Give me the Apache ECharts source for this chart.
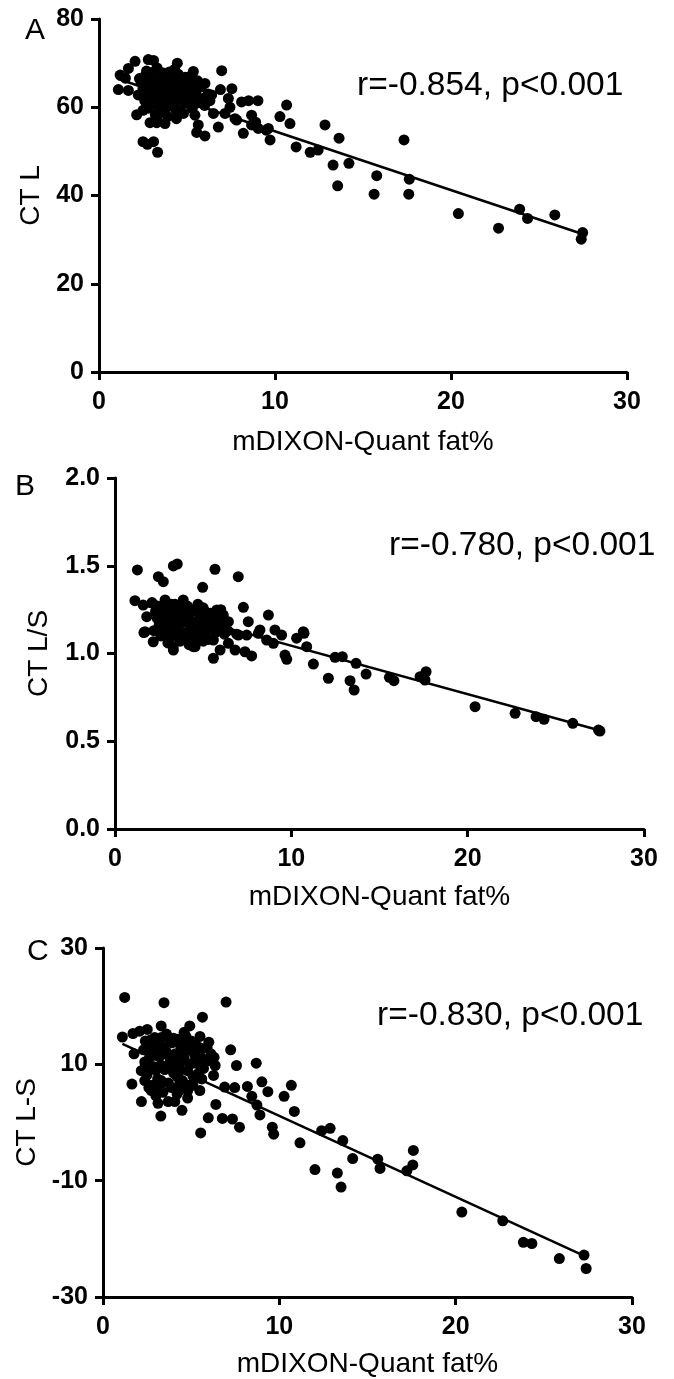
<!DOCTYPE html>
<html>
<head>
<meta charset="utf-8">
<script src="https://cdn.jsdelivr.net/npm/echarts@6/dist/echarts.min.js"></script>
<style>
html,body{margin:0;padding:0;background:#fff;}
#chart{width:674px;height:1379px;}
</style>
</head>
<body>
<div id="chart"></div>
<script>
// ---- data ----
var xName = "mDIXON-Quant fat%";
var yNames = ["CT L", "CT L/S", "CT L-S"];
var panelLetters = ["A", "B", "C"];
var statTexts = ["r=-0.854, p<0.001", "r=-0.780, p<0.001", "r=-0.830, p<0.001"];

var pointsA = [
  [1.1,64.0],[1.2,67.3],[1.5,66.6],[1.67,68.8],[2.05,70.4],[1.67,63.8],[2.23,62.8],[2.14,58.3],
  [2.8,70.8],[3.1,70.6],[2.5,52.2],[2.75,51.6],[3.1,52.2],[3.33,49.8],[2.9,56.5],[3.28,56.5],
  [3.75,56.3],[4.45,70.0],[5.36,68.1],[4.9,66.6],[6.02,65.4],[5.45,65.0],[6.97,68.3],[6.9,64.0],
  [7.55,64.2],[6.4,62.8],[6.3,61.5],[7.35,62.0],[8.1,61.2],[8.5,61.5],[9.03,61.5],[7.44,60.0],
  [7.16,58.6],[6.5,58.6],[5.45,58.2],[5.64,56.0],[5.55,54.3],[6.02,53.5],[6.78,55.5],[7.82,57.1],
  [8.2,54.1],[8.67,58.2],[8.67,56.0],[9.05,55.2],[9.62,55.2],[9.72,52.6],[10.28,57.9],[10.66,60.5],
  [10.85,56.3],[11.2,51.0],[12.0,49.8],[12.45,50.3],[12.84,56.0],[13.64,53.0],[13.3,46.9],[13.56,42.2],
  [14.2,47.3],[15.78,44.5],[15.63,40.3],[17.33,52.6],[17.63,43.7],[17.6,40.3],[20.42,35.9],[22.7,32.6],
  [23.9,36.9],[24.35,34.8],[25.9,35.6],[27.48,31.6],[27.4,30.1],[7.73,57.4],[8.9,56.6],[9.5,54.8],
  [2.3,66.5],[2.5,64.2],[2.6,61.5],[2.7,68.2],[2.8,59.8],[2.9,63.4],[3.0,66.9],[3.1,60.7],
  [3.2,64.8],[3.2,58.3],[3.3,68.9],[3.4,62.3],[3.5,65.6],[3.5,59.4],[3.6,67.8],[3.7,61.2],
  [3.8,63.9],[3.9,57.9],[3.9,66.3],[4.0,60.2],[4.1,64.7],[4.2,62.4],[4.3,68.6],[4.4,59.1],
  [4.5,65.3],[4.6,61.8],[4.7,63.6],[4.8,58.6],[4.9,66.8],[5.0,60.9],[5.1,64.1],[5.2,62.7],
  [5.3,59.7],[5.5,63.3],[5.6,61.0],[5.8,64.6],[6.0,60.4],[6.2,63.0],[2.4,62.8],[3.0,62.6],
  [3.6,63.2],[4.2,66.2],[4.4,57.4],[3.3,57.1],[2.7,60.6],
  [2.4,65.5],[2.6,67.0],[2.8,65.1],[3.0,64.0],[3.1,68.0],[3.3,66.0],[3.4,60.0],[3.6,65.0],
  [3.7,58.8],[3.8,67.0],[4.0,63.0],[4.0,68.0],[4.3,61.0],[4.5,67.5],[4.6,63.0],[4.9,61.5],
  [5.0,65.5],[5.2,67.0],[5.4,61.8],[5.6,66.0],[2.5,59.3],[3.5,62.0],[4.6,59.5],[5.9,62.0],
  [3.9,61.0],[2.9,61.2],[4.4,64.0]
];

var pointsB = [
  [1.27,1.476],[3.31,1.499],[3.53,1.51],[2.46,1.438],[2.74,1.409],[5.67,1.48],[6.99,1.438],[4.97,1.377],
  [1.13,1.301],[7.28,1.263],[8.7,1.219],[7.56,1.181],[1.7,1.124],[2.17,1.067],[5.58,0.973],[5.96,1.02],
  [6.43,1.058],[6.81,1.02],[7.37,1.01],[7.75,0.986],[7.0,1.105],[7.47,1.105],[8.22,1.134],[8.6,1.077],
  [9.07,1.134],[9.45,1.105],[8.98,1.058],[9.64,0.991],[9.74,0.967],[10.3,1.087],[10.68,1.124],[10.87,1.039],
  [11.25,0.94],[12.48,0.978],[12.1,0.859],[12.89,0.982],[13.33,0.845],[13.56,0.792],[13.67,0.944],[14.24,0.883],
  [15.56,0.864],[15.82,0.845],[17.3,0.868],[17.64,0.896],[17.58,0.849],[20.42,0.697],[22.69,0.659],[23.88,0.64],
  [24.33,0.625],[25.96,0.602],[27.42,0.564],[27.5,0.558],
  [1.6,1.276],[1.8,1.21],[2.1,1.29],[2.84,1.305],[3.87,1.305],[3.31,1.02],[4.44,1.039],[5.58,1.077],
  [6.14,1.219],[6.43,1.181],[5.77,1.248],[1.64,1.119],[4.54,1.039],[8.13,1.115],[6.9,1.11],[10.72,1.115],
  [2.3,1.24],[2.5,1.16],[2.6,1.10],[2.7,1.27],[2.8,1.13],[2.9,1.21],[3.0,1.06],[3.1,1.25],
  [3.2,1.17],[3.3,1.11],[3.4,1.28],[3.5,1.20],[3.6,1.14],[3.7,1.07],[3.8,1.24],[3.9,1.18],
  [4.0,1.12],[4.1,1.27],[4.2,1.21],[4.3,1.15],[4.4,1.09],[4.5,1.25],[4.6,1.18],[4.7,1.13],
  [4.8,1.22],[4.9,1.16],[5.0,1.26],[5.1,1.11],[5.2,1.20],[5.3,1.14],[5.4,1.23],[5.5,1.17],
  [5.7,1.12],[5.9,1.19],[6.1,1.15],[2.4,1.20],[3.0,1.15],[3.6,1.23],[4.2,1.05],[4.8,1.08],
  [3.3,1.04],[2.6,1.22],[5.0,1.07],
  [2.4,1.27],[2.6,1.14],[2.9,1.25],[3.1,1.09],[3.3,1.22],[3.5,1.10],[3.7,1.26],[3.9,1.08],
  [4.0,1.19],[4.3,1.24],[4.5,1.12],[4.7,1.28],[4.9,1.20],[5.1,1.24],[5.3,1.08],[5.6,1.21],
  [5.8,1.15],[6.2,1.11],[6.4,1.13],[2.8,1.18],[3.4,1.16],[4.6,1.15],[5.2,1.17],[2.2,1.13],
  [3.2,1.28],[6.0,1.25]
];

var pointsC = [
  [1.23,21.5],[3.46,20.6],[6.98,20.7],[5.64,18.1],[4.92,16.6],[3.3,16.6],[1.1,14.7],[1.7,15.3],
  [2.08,15.7],[2.51,16.0],[1.76,11.8],[1.64,6.6],[2.18,3.6],[3.28,1.1],[4.48,2.1],[7.24,12.5],
  [7.57,9.8],[8.69,10.2],[9.01,7.0],[9.35,5.3],[10.68,6.4],[10.27,4.5],[10.85,1.9],[6.4,3.1],
  [5.97,0.8],[6.77,0.7],[7.34,0.6],[7.74,-0.8],[5.54,-1.8],[8.19,6.2],[8.44,4.5],[8.73,3.0],
  [8.9,1.3],[9.6,-0.8],[9.68,-2.0],[6.12,11.8],[5.62,12.7],[6.36,9.8],[6.27,8.1],[6.9,6.1],
  [7.47,6.0],[5.49,5.5],[4.8,5.5],[5.1,6.7],[4.35,6.7],[3.7,3.6],[4.07,3.6],[3.12,3.3],
  [2.74,5.5],[2.37,7.2],[2.17,8.9],[2.37,10.4],[2.65,12.4],[2.93,14.6],[3.78,14.3],[4.25,14.3],
  [4.63,13.8],[5.01,12.4],[5.39,10.1],[5.39,8.4],[11.17,-3.5],[12.02,-8.1],[12.4,-1.4],[12.88,-1.0],
  [13.29,-8.7],[13.5,-11.1],[13.6,-3.1],[14.16,-6.2],[15.58,-6.3],[15.71,-7.9],[17.23,-8.3],[17.57,-7.3],
  [17.6,-4.8],[20.35,-15.4],[22.67,-16.9],[23.84,-20.6],[24.32,-20.8],[25.88,-23.4],[27.28,-22.8],[27.4,-25.1],
  [2.3,12.5],[2.5,8.2],[2.6,10.9],[2.7,14.2],[2.8,6.4],[2.9,9.6],[3.0,12.8],[3.1,7.5],
  [3.2,11.3],[3.3,14.6],[3.4,5.2],[3.5,9.1],[3.6,12.1],[3.7,6.8],[3.8,10.4],[3.9,13.7],
  [4.0,8.5],[4.1,11.8],[4.2,4.9],[4.3,9.9],[4.4,13.2],[4.5,7.2],[4.6,11.0],[4.7,14.8],
  [4.8,8.9],[4.9,12.4],[5.0,6.3],[5.1,10.2],[5.2,13.5],[5.3,8.0],[5.5,11.4],[5.7,9.3],
  [5.9,12.9],[6.1,10.6],[2.4,10.0],[3.0,4.6],[3.6,15.2],[4.2,7.9],[4.8,4.2],[3.3,9.8],
  [2.7,12.0],[5.0,14.0],[3.9,6.0],
  [2.4,14.0],[2.6,6.0],[2.8,11.5],[3.0,9.0],[3.1,13.5],[3.3,7.2],[3.5,11.8],[3.7,9.5],
  [3.9,11.2],[4.0,14.5],[4.2,10.5],[4.4,9.0],[4.5,12.0],[4.7,6.5],[4.9,10.0],[5.1,8.0],
  [5.2,11.6],[5.4,13.0],[5.6,7.5],[5.8,10.8],[6.0,13.8],[2.5,9.5],[3.4,13.0],[4.6,15.5],
  [3.2,6.0],[4.3,5.5],[5.5,14.8],[6.3,11.2]
];

var fitA = [[1.1,66.4],[27.3,31.5]];
var fitB = [[1.1,1.29],[27.4,0.564]];
var fitC = [[1.1,13.5],[27.2,-22.8]];

var xRange = [0, 30, 10];
var yRangeA = [0, 80, 20];
var yRangeB = [0, 2, 0.5];
var yRangeC = [-30, 30, 20];

// ---- layout / style ----
var FONT = "'Liberation Sans', Arial, sans-serif";
var grids = [
  {left: 99, top: 19, width: 528, height: 353},
  {left: 115, top: 478, width: 529, height: 351},
  {left: 103, top: 948, width: 529, height: 352}
];
var yNameGaps = [54, 62, 58];
var xNameGaps = [56, 54, 53];
var yRanges = [yRangeA, yRangeB, yRangeC];
var pointSets = [pointsA, pointsB, pointsC];
var fits = [fitA, fitB, fitC];

function axisCommon() {
  return {
    axisLine: {show: true, onZero: false, lineStyle: {color: '#000', width: 3}},
    axisTick: {show: true, length: 8, lineStyle: {color: '#000', width: 3}},
    splitLine: {show: false},
    nameTextStyle: {fontFamily: FONT, fontSize: 28, color: '#000'}
  };
}

var xAxes = [], yAxes = [], series = [];
for (var i = 0; i < 3; i++) {
  var xa = axisCommon();
  xa.type = 'value'; xa.gridIndex = i;
  xa.min = xRange[0]; xa.max = xRange[1]; xa.interval = xRange[2];
  xa.name = xName; xa.nameLocation = 'middle'; xa.nameGap = xNameGaps[i];
  xa.axisLabel = {fontFamily: FONT, fontSize: 25, fontWeight: 'bold', color: '#000', margin: 18};
  xAxes.push(xa);

  var ya = axisCommon();
  var yr = yRanges[i];
  ya.type = 'value'; ya.gridIndex = i;
  ya.min = yr[0]; ya.max = yr[1]; ya.interval = yr[2];
  ya.name = yNames[i]; ya.nameLocation = 'middle'; ya.nameGap = yNameGaps[i];
  ya.axisLabel = {fontFamily: FONT, fontSize: 25, fontWeight: 'bold', color: '#000', margin: 15,
    formatter: (i === 1) ? function (v) { return v.toFixed(1); } : null};
  yAxes.push(ya);

  series.push({
    type: 'scatter', xAxisIndex: i, yAxisIndex: i, data: pointSets[i],
    symbol: 'circle', symbolSize: 11, itemStyle: {color: '#000', opacity: 1}, silent: true, z: 2
  });
  series.push({
    type: 'line', xAxisIndex: i, yAxisIndex: i, data: fits[i],
    symbol: 'none', lineStyle: {color: '#000', width: 2.5}, silent: true, z: 3
  });
}

var graphics = [];
var letterPos = [[25, 31], [15, 487], [27, 952]];
var statPos = [[357, 86], [389, 546], [377, 1016]];
for (var j = 0; j < 3; j++) {
  graphics.push({type: 'text', left: letterPos[j][0], top: letterPos[j][1] - 15,
    style: {text: panelLetters[j], font: '30px ' + FONT, fill: '#000'}});
  graphics.push({type: 'text', left: statPos[j][0], top: statPos[j][1] - 17,
    style: {text: statTexts[j], font: '33.5px ' + FONT, fill: '#000'}});
}

var chart = echarts.init(document.getElementById('chart'), null, {renderer: 'canvas'});
chart.setOption({
  animation: false,
  backgroundColor: '#fff',
  grid: grids,
  xAxis: xAxes,
  yAxis: yAxes,
  series: series,
  graphic: graphics
});
</script>
</body>
</html>
